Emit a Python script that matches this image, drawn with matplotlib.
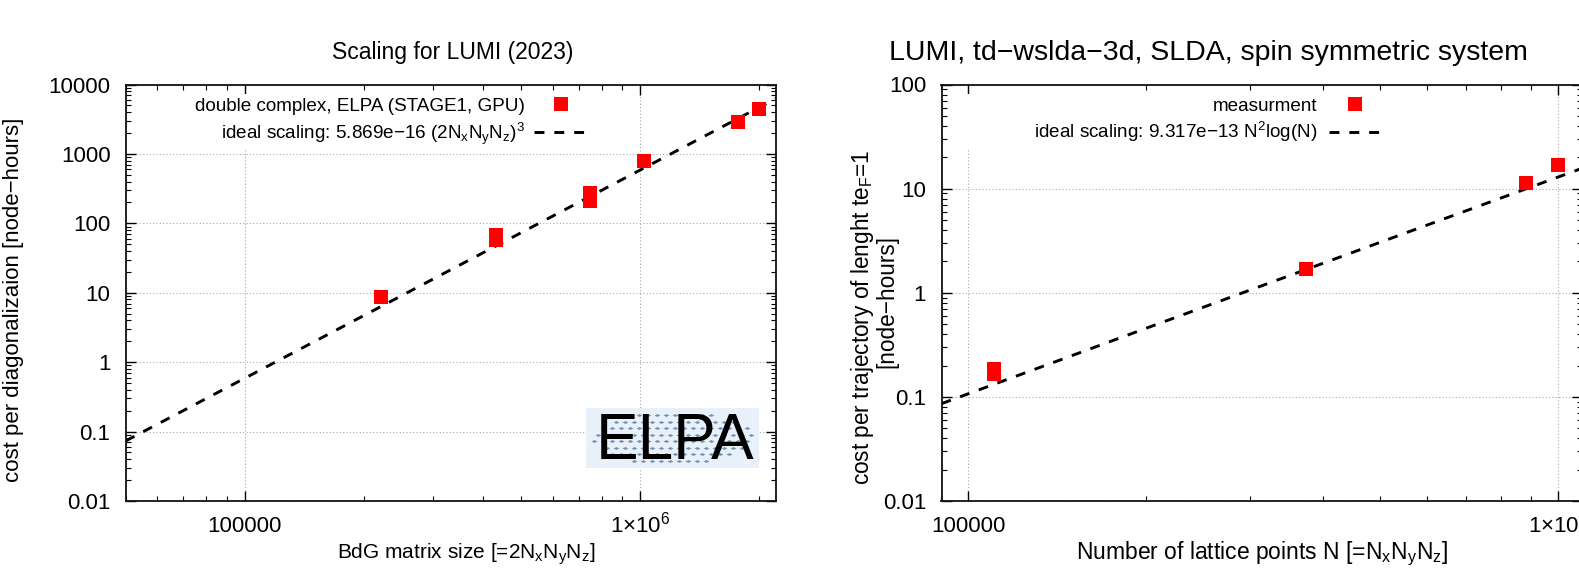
import numpy as np
import matplotlib
matplotlib.use("Agg")
import matplotlib.pyplot as plt
from matplotlib.ticker import LogLocator, NullFormatter
from matplotlib.patches import Rectangle

plt.rcParams['font.family'] = ['Liberation Sans', 'DejaVu Sans']
plt.rcParams['mathtext.default'] = 'regular'
plt.rcParams['axes.unicode_minus'] = True

# ---------------- data ----------------
# Left panel: ELPA diagonalization
elpa_size = [221184, 432000, 432000, 746496, 746496, 1024000, 1769472, 2000000]
elpa_cost = [8.6, 68, 57, 271, 213, 800, 2850, 4440]
elpa_coef = 5.869e-16          # ideal scaling: coef * (2NxNyNz)^3
elpa_xlim = (5e4, 2.2e6)
elpa_ylim = (0.01, 10000)
elpa_yticks = [0.01, 0.1, 1, 10, 100, 1000, 10000]
elpa_yticklabels = ["0.01", "0.1", "1", "10", "100", "1000", "10000"]

# Right panel: td-wslda-3d
td_points = [110592, 110592, 373248, 884736, 1000000]
td_cost = [0.186, 0.165, 1.68, 11.25, 16.8]
td_coef = 9.317e-13            # ideal scaling: coef * N^2 log(N)
td_xlim = (9e4, 1.1e6)
td_ylim = (0.01, 100)
td_yticks = [0.01, 0.1, 1, 10, 100]
td_yticklabels = ["0.01", "0.1", "1", "10", "100"]

xticks = [1e5, 1e6]
xticklabels = ["100000", r"1$\times$10$^{6}$"]

# ---------------- figure ----------------
W, H = 1579, 577
fig = plt.figure(figsize=(W / 100, H / 100), dpi=100)

def fx(px):
    return px / W

def fy(py):
    return 1 - py / H

FS = 16
LFS = 13.6
RED = '#ff0000'
GRID = '#a8a8a8'


def style_axes(ax, xlim, ylim, yticks, yticklabels):
    ax.set_xscale('log')
    ax.set_yscale('log')
    ax.set_xlim(*xlim)
    ax.set_ylim(*ylim)
    ax.set_yticks(yticks, yticklabels)
    ax.set_xticks(xticks, xticklabels)
    ax.xaxis.set_minor_locator(LogLocator(base=10, subs=np.arange(2, 10), numticks=50))
    ax.yaxis.set_minor_locator(LogLocator(base=10, subs=np.arange(2, 10), numticks=50))
    ax.xaxis.set_minor_formatter(NullFormatter())
    ax.yaxis.set_minor_formatter(NullFormatter())
    ax.grid(True, which='major', color=GRID, linestyle=(0, (1, 2)), linewidth=0.8)
    ax.tick_params(which='both', direction='in', top=True, right=True,
                   labelsize=FS, colors='black')
    ax.tick_params(which='major', length=7, width=1.0)
    ax.tick_params(which='minor', length=3.5, width=0.8)
    ax.tick_params(axis='x', which='major', pad=22.5)
    ax.tick_params(axis='y', which='major', pad=11)
    for t in ax.get_xticklabels():
        t.set_verticalalignment('baseline')
    for s in ax.spines.values():
        s.set_linewidth(1.3)
        s.set_color('#111111')


def white_box(ax, x0px, x1px, ytop_px, ybot_px, axl, axr, axt, axb):
    # opaque key box (covers grid lines, as in the reference)
    ax.add_patch(Rectangle(((x0px - axl) / (axr - axl), (axb - ybot_px) / (axb - axt)),
                           (x1px - x0px) / (axr - axl), (ybot_px - ytop_px) / (axb - axt),
                           transform=ax.transAxes, facecolor='white', edgecolor='none',
                           zorder=1.8))


# ---------------- left panel ----------------
L_l, L_r, L_t, L_b = 125.7, 775.7, 84.5, 501.0
ax1 = fig.add_axes([fx(L_l), fy(L_b), (L_r - L_l) / W, (L_b - L_t) / H])
style_axes(ax1, elpa_xlim, elpa_ylim, elpa_yticks, elpa_yticklabels)

xs1 = np.geomspace(elpa_xlim[0], elpa_xlim[1], 300)
m1, = ax1.plot(elpa_size, elpa_cost, linestyle='none', marker='s', markersize=10.6,
               markeredgewidth=0, color=RED, zorder=3,
               label='double complex, ELPA (STAGE1, GPU)')
l1, = ax1.plot(xs1, elpa_coef * xs1 ** 3, color='black', linewidth=2.1,
               linestyle=(0, (3.4, 3.4)), zorder=2.5,
               label='ideal scaling: 5.869e\u221216 (2N$_x$N$_y$N$_z$)$^3$')
white_box(ax1, 190, 602, L_t + 9, 150, L_l, L_r, L_t, L_b)
leg1 = ax1.legend(handles=[m1, l1], loc='upper right',
                  bbox_to_anchor=((601 - L_l) / (L_r - L_l), 1.0),
                  frameon=False, markerfirst=False, fontsize=LFS, handlelength=2.85,
                  handletextpad=0.5, borderpad=0.68, borderaxespad=0, labelspacing=0.3)

# ---------------- right panel ----------------
R_l, R_r, R_t, R_b = 941.5, 1582.1, 84.5, 501.0
ax2 = fig.add_axes([fx(R_l), fy(R_b), (R_r - R_l) / W, (R_b - R_t) / H])
style_axes(ax2, td_xlim, td_ylim, td_yticks, td_yticklabels)

xs2 = np.geomspace(td_xlim[0], td_xlim[1], 300)
m2, = ax2.plot(td_points, td_cost, linestyle='none', marker='s', markersize=10.6,
               markeredgewidth=0, color=RED, zorder=3, label='measurment')
l2, = ax2.plot(xs2, td_coef * xs2 ** 2 * np.log(xs2), color='black', linewidth=2.1,
               linestyle=(0, (3.4, 3.4)), zorder=2.5,
               label='ideal scaling: 9.317e\u221213 N$^2$log(N)')
white_box(ax2, 955, 1400, R_t + 9, 150, R_l, R_r, R_t, R_b)
leg2 = ax2.legend(handles=[m2, l2], loc='upper right',
                  bbox_to_anchor=((1393.5 - R_l) / (R_r - R_l), 1.0),
                  frameon=False, markerfirst=False, fontsize=LFS, handlelength=2.75,
                  handletextpad=0.6, borderpad=0.68, borderaxespad=0, labelspacing=0.3)

# ---------------- titles and axis labels ----------------
fig.text(fx(453), fy(53), 'Scaling for LUMI (2023)', fontsize=16.5, ha='center', va='center')
fig.text(fx(466), fy(554), 'BdG matrix size [=2N$_x$N$_y$N$_z$]', fontsize=15,
         ha='center', va='center')
fig.text(fx(14), fy(300), 'cost per diagonalizaion [node\u2212hours]', fontsize=FS,
         rotation=90, ha='center', va='center')

fig.text(fx(1208), fy(53), 'LUMI, td\u2212wslda\u22123d, SLDA, spin symmetric system',
         fontsize=20.5, ha='center', va='center')
fig.text(fx(1262), fy(554), 'Number of lattice points N [=N$_x$N$_y$N$_z$]', fontsize=16.5,
         ha='center', va='center')
fig.text(fx(863), fy(317), 'cost per trajectory of lenght te$_F$=1', fontsize=16.3,
         rotation=90, ha='center', va='center')
fig.text(fx(887), fy(301), '[node\u2212hours]', fontsize=16.3,
         rotation=90, ha='center', va='center')

# ---------------- ELPA logo ----------------
lg_l, lg_r, lg_t, lg_b = 586, 759, 408, 468
logo = fig.add_axes([fx(lg_l), fy(lg_b), (lg_r - lg_l) / W, (lg_b - lg_t) / H])
logo.set_xlim(0, lg_r - lg_l)
logo.set_ylim(0, lg_b - lg_t)
logo.axis('off')
logo.add_patch(Rectangle((0, 0), lg_r - lg_l, lg_b - lg_t, facecolor='#e8f0fa',
                         edgecolor='none', zorder=0))
cx, cy = (lg_r - lg_l) / 2, (lg_b - lg_t) / 2
dots_x, dots_y = [], []
for i, yy in enumerate(np.arange(cy - 6.5 * 3.5, cy + 6.5 * 4, 6.5)):
    off = 0 if i % 2 == 0 else 4.5
    for xx in np.arange(3.0 + off, lg_r - lg_l, 9.0):
        if ((xx - cx) / 80) ** 2 + ((yy - cy) / 26) ** 2 <= 1:
            dots_x.append(xx)
            dots_y.append(yy)
diamond = [(-1, 0), (0, 0.5), (1, 0), (0, -0.5), (-1, 0)]
logo.plot(dots_x, dots_y, linestyle='none', marker=diamond, markersize=4.2,
          markeredgewidth=0, color='#7890b0', zorder=1)
logo.text(0.514 * (lg_r - lg_l), 0.15 * (lg_b - lg_t), 'ELPA', fontsize=46,
          ha='center', va='baseline', color='black', zorder=2)

fig.savefig('out.png', dpi=100)
